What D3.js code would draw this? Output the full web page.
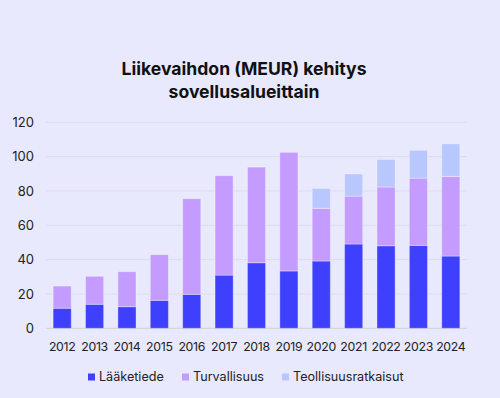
<!DOCTYPE html>
<html>
<head>
<meta charset="utf-8">
<script src="https://cdn.jsdelivr.net/npm/d3@7"></script>
<style>
    body { margin: 0; background: #e9e9fe; }
    svg { display: block; font-family: Inter, 'Noto Sans', sans-serif; }
</style>
</head>
<body>
<script>
const years = ['2012', '2013', '2014', '2015', '2016', '2017', '2018', '2019', '2020', '2021', '2022', '2023', '2024']
const laaketiede = [11.7, 14, 12.6, 16.3, 19.8, 31, 38.2, 33.4, 39.2, 49.1, 48.1, 48.3, 42.1]
const turvallisuus = [12.9, 16.3, 20.4, 26.6, 55.7, 57.9, 55.7, 69.1, 30.7, 27.9, 34.2, 39.2, 46.4]
const teollisuus = [0, 0, 0, 0, 0, 0, 0, 0, 11.6, 12.9, 16.1, 16.2, 19.0]
const seriesNames = ['Lääketiede', 'Turvallisuus', 'Teollisuusratkaisut']
const yTicks = [0, 20, 40, 60, 80, 100, 120]

const width = 500
const height = 398

const svg = d3.select('body').append('svg')
    .attr('width', width)
    .attr('height', height)

svg.append('rect')
    .attr('width', width)
    .attr('height', height)
    .attr('fill', '#e9e9fe')

const data = years.map((y, i) => ({
    year: y,
    'Lääketiede': laaketiede[i],
    'Turvallisuus': turvallisuus[i],
    'Teollisuusratkaisut': teollisuus[i]
}))

const stacked = d3.stack().keys(seriesNames)(data)

const x = d3.scaleBand()
    .domain(years)
    .range([46, 467])
    .paddingInner(0.44)
    .paddingOuter(0.22)

const y = d3.scaleLinear()
    .domain([0, 120])
    .range([328.3, 122.3])

const color = d3.scaleOrdinal()
    .domain(seriesNames)
    .range(['#3f3ffe', '#c49bfe', '#b8c7fd'])

// title
const title = svg.append('text')
    .attr('text-anchor', 'middle')
    .attr('font-weight', 'bold')
    .attr('font-size', 17.6)
    .attr('fill', '#111')
title.append('tspan').attr('x', 244).attr('y', 75).text('Liikevaihdon (MEUR) kehitys')
title.append('tspan').attr('x', 244).attr('y', 97.5).text('sovellusalueittain')

// gridlines
svg.selectAll('line.grid')
    .data(yTicks)
    .enter()
    .append('line')
    .attr('class', 'grid')
    .attr('x1', 46)
    .attr('x2', 467)
    .attr('y1', d => y(d))
    .attr('y2', d => y(d))
    .attr('stroke', d => d === 0 ? '#cfcfd6' : '#dcdce9')
    .attr('stroke-width', 1)

svg.selectAll('text.ytick')
    .data(yTicks)
    .enter()
    .append('text')
    .attr('class', 'ytick')
    .attr('x', 34)
    .attr('y', d => y(d))
    .attr('dy', '0.35em')
    .attr('text-anchor', 'end')
    .attr('font-size', 13)
    .attr('fill', '#222')
    .text(d => d)

// bars
svg.selectAll('g.series')
    .data(stacked)
    .enter()
    .append('g')
    .attr('class', 'series')
    .attr('fill', d => color(d.key))
    .selectAll('rect')
    .data(d => d.filter(s => s[1] - s[0] > 0))
    .enter()
    .append('rect')
    .attr('x', d => x(d.data.year))
    .attr('width', x.bandwidth())
    .attr('y', d => y(d[1]))
    .attr('height', d => y(d[0]) - y(d[1]))
    .attr('stroke', 'rgba(255,255,255,0.35)')
    .attr('stroke-width', 1)

svg.selectAll('text.xtick')
    .data(years)
    .enter()
    .append('text')
    .attr('class', 'xtick')
    .attr('x', d => x(d) + x.bandwidth() / 2)
    .attr('y', 350.5)
    .attr('text-anchor', 'middle')
    .attr('font-size', 12.3)
    .attr('letter-spacing', -0.3)
    .attr('fill', '#222')
    .text(d => d)

// legend
const legendX = [88, 182, 282]
const legend = svg.selectAll('g.legend')
    .data(seriesNames)
    .enter()
    .append('g')
    .attr('class', 'legend')
    .attr('transform', (d, i) => `translate(${legendX[i]}, 377)`)

legend.append('rect')
    .attr('x', 0)
    .attr('y', -3.5)
    .attr('width', 7)
    .attr('height', 7)
    .attr('fill', d => color(d))

legend.append('text')
    .attr('x', 11)
    .attr('y', 0)
    .attr('dy', '0.35em')
    .attr('font-size', 12.6)
    .attr('fill', '#222')
    .text(d => d)
</script>
</body>
</html>
